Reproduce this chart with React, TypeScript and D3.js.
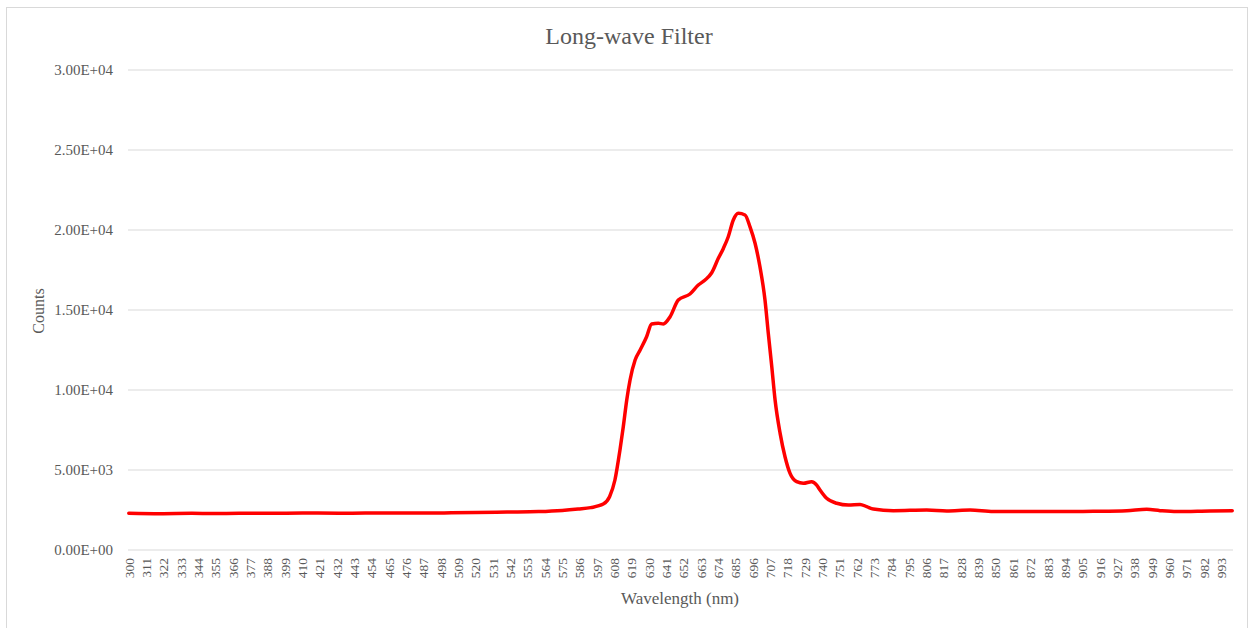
import React from "react";
import * as d3 from "d3";

const wavelengths = [
  300, 320, 340, 360, 380, 400, 420, 440, 460, 480, 500, 520, 540, 560, 575, 585, 593, 601, 605, 608.4,
  611.6, 613.7, 615.9, 618, 621.2, 624.4, 628.5, 631.7, 635.9, 639.1, 643.4, 648.6, 656, 661.3, 665.6,
  669.8, 674, 677.2, 680.3, 683.5, 686.7, 690.9, 694.1, 697.3, 700.4, 703.6, 705.7, 707.9, 710, 713.2,
  716.3, 719.5, 723.7, 727.9, 733.2, 736.4, 738.5, 742.7, 749.1, 756.5, 763.9, 768.1, 772.3, 785, 806.2,
  818.9, 833.7, 848.4, 869.6, 890.7, 911.9, 933.1, 945.8, 954.2, 964.8, 985.9, 1000,
];
const counts = [
  2300, 2270, 2290, 2280, 2300, 2300, 2310, 2300, 2320, 2310, 2320, 2340, 2370, 2400, 2470, 2560, 2650, 2870, 3330, 4375,
  6250, 7700, 9375, 10625, 11875, 12500, 13330, 14125, 14170, 14125, 14580, 15625, 16000, 16560, 16875,
  17330, 18230, 18850, 19580, 20625, 21040, 20940, 20200, 19170, 17700, 15625, 13540, 11460, 9375, 7290,
  5830, 4790, 4270, 4170, 4270, 4060, 3750, 3230, 2920, 2810, 2850, 2710, 2560, 2460, 2500,
  2440, 2500, 2400, 2400, 2400, 2420, 2460, 2540, 2460, 2400, 2440, 2460,
];
const yTicks = [0, 5000, 10000, 15000, 20000, 25000, 30000];
const xTickLabels = d3.range(300, 1000, 11);

const W = 1251;
const H = 628;
const left = 128;
const right = 1233;
const top = 70;
const bottom = 550;

export default function App() {
  const x = d3.scaleLinear().domain([299.5, 1000.5]).range([left, right]);
  const y = d3.scaleLinear().domain([0, 30000]).range([bottom, top]);
  const pts = wavelengths.map((w, i) => [w, counts[i]] as [number, number]);
  const line = d3
    .line<[number, number]>()
    .x((d) => x(d[0]))
    .y((d) => y(d[1]))
    .curve(d3.curveMonotoneX);
  const fmt = (v: number) => {
    const s = v.toExponential(2).toUpperCase();
    return s.replace(/E([+-])(\d)$/, "E$10$2");
  };
  const font = "'Liberation Serif', 'Times New Roman', serif";
  return (
    <svg
      width={W}
      height={H}
      style={{ position: "absolute", left: 0, top: 0, background: "#fff" }}
      fontFamily={font}
    >
      <rect x={6.5} y={7.5} width={1241} height={640} fill="#fff" stroke="#d9d9d9" />
      <text x={629} y={44} textAnchor="middle" fontSize={24} fill="#595959">
        Long-wave Filter
      </text>
      {yTicks.map((t) => (
        <g key={t}>
          <line x1={left} x2={right} y1={y(t)} y2={y(t)} stroke="#d9d9d9" strokeWidth={1} />
          <text x={113} y={y(t)} dy="0.35em" textAnchor="end" fontSize={15} fill="#595959">
            {fmt(t)}
          </text>
        </g>
      ))}
      {xTickLabels.map((w) => (
        <text
          key={w}
          transform={`translate(${x(w)},558) rotate(-90)`}
          textAnchor="end"
          dy="0.35em"
          fontSize={13.5}
          fill="#595959"
        >
          {w}
        </text>
      ))}
      <path d={line(pts) || ""} fill="none" stroke="#ff0000" strokeWidth={3.5} strokeLinejoin="round" strokeLinecap="round" />
      <text transform="translate(44,311) rotate(-90)" textAnchor="middle" fontSize={16} fill="#595959">
        Counts
      </text>
      <text x={680} y={604} textAnchor="middle" fontSize={17} fill="#595959">
        Wavelength (nm)
      </text>
    </svg>
  );
}
